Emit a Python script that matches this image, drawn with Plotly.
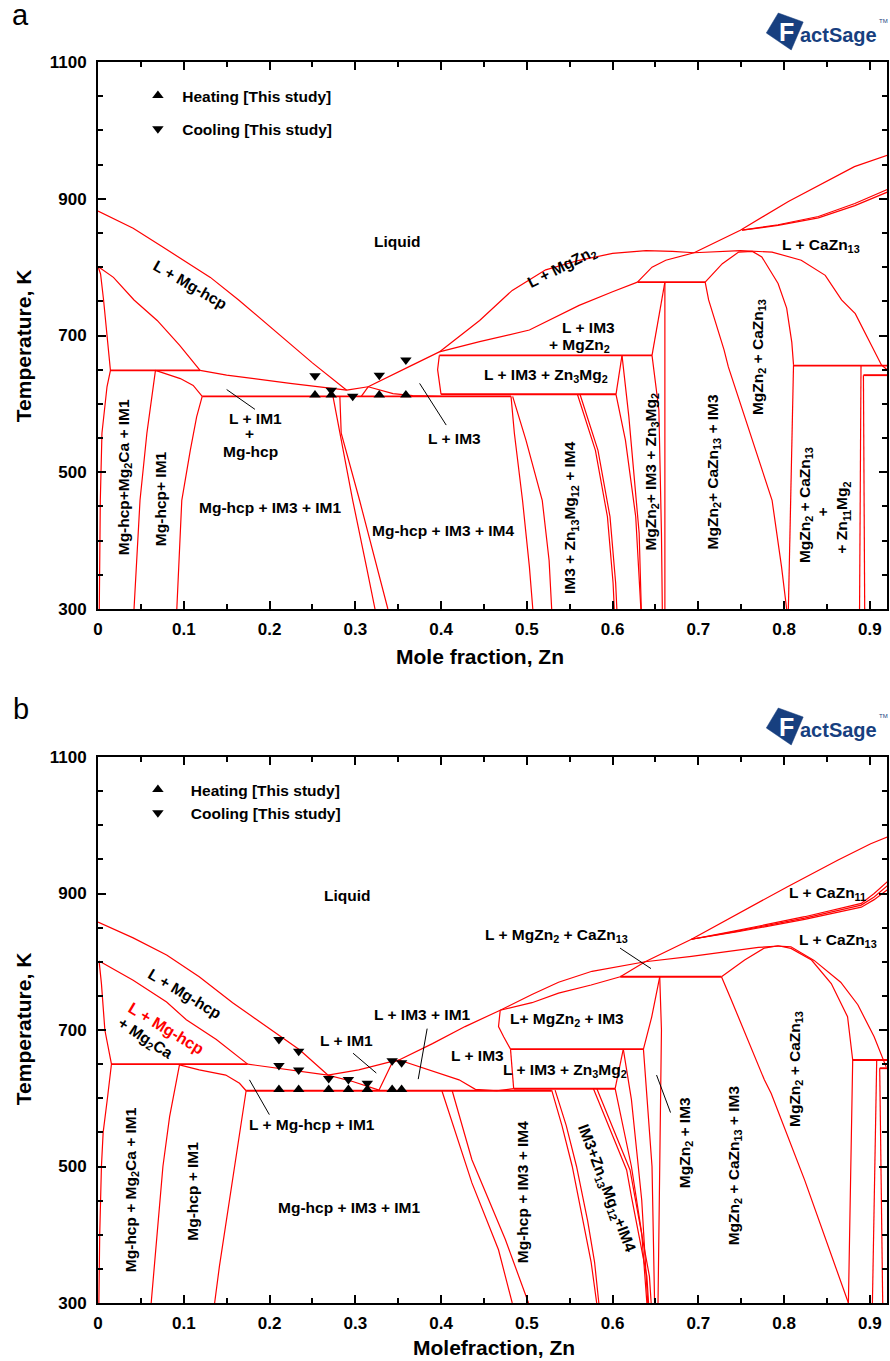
import plotly.graph_objects as go

FONT = "Liberation Sans, Arial, Helvetica, sans-serif"
RED = "#ff0000"
NAVY = "#173f7f"

W, H = 890, 1361
ML, MR, MT, MB = 98, 1, 62, 58

# ---------------------------------------------------------------------------
# Panel (a): phase boundaries as (mole fraction Zn, temperature K)
# ---------------------------------------------------------------------------
A_LIQ_HCP = ([0, 0.041, 0.076, 0.131, 0.164, 0.208, 0.25, 0.29],
             [882, 857, 829, 785, 752, 705, 660, 620])
A_HCP_L2 = ([0, 0.018, 0.042, 0.069, 0.095, 0.119],
            [801, 785, 752, 722, 686, 649])
A_HCP_SOLIDUS = ([0, 0.003, 0.0065, 0.0105, 0.0145, 0.0105, 0.0046, 0.0027, 0.002, 0.0015],
                 [801, 790, 752, 700, 649, 625, 557, 459, 380, 300])
A_L_HCP_IM1 = ([0.119, 0.15, 0.224, 0.29], [649, 642, 630, 620])
A_IM1_SOLVUS = ([0.067, 0.062, 0.057, 0.049, 0.042], [649, 600, 557, 459, 300])
A_HCP_IM1_TOP = ([0.067, 0.082, 0.096, 0.111, 0.1215], [649, 643, 637, 627, 611])
A_HCP_IM1_RIGHT = ([0.1215, 0.115, 0.1076, 0.0977, 0.0919], [611, 581, 532, 459, 300])
A_IM4_1 = ([0.274, 0.282, 0.297, 0.313, 0.323], [611, 557, 459, 362, 300])
A_IM4_2 = ([0.282, 0.2836, 0.305, 0.325, 0.338], [611, 557, 459, 362, 300])
A_L_IM1 = ([0.29, 0.315], [620, 625])
A_IM1_IM3 = ([0.307, 0.315], [611, 625])
A_L_IM3_LOW = ([0.315, 0.344, 0.367, 0.40], [625, 615, 612, 611])
A_LIQ_IM3 = ([0.315, 0.34, 0.367, 0.398], [625, 640, 657, 676])
A_LIQ_MGZN2 = ([0.398, 0.445, 0.483, 0.522, 0.561, 0.6, 0.639, 0.67, 0.695],
               [676, 722, 766, 796, 810, 820, 824, 823, 821])
A_MGZN2_LOW = ([0.398, 0.445, 0.503, 0.561, 0.6, 0.629], [676, 691, 708, 744, 764, 778])
A_BOX_LEFT = ([0.398, 0.396, 0.40], [671, 650, 614])
A_BOX_RIGHT = ([0.604, 0.611], [614, 671])
A_ZN3MG2_R = ([0.611, 0.619, 0.631, 0.6335], [671, 581, 411, 300])
A_ZN3MG2_L = ([0.604, 0.615, 0.627, 0.633], [614, 547, 435, 300])
A_IM4_R1 = ([0.559, 0.58, 0.594, 0.6006, 0.602], [614, 532, 435, 338, 300])
A_IM4_R2 = ([0.562, 0.583, 0.597, 0.6036, 0.605], [614, 532, 435, 338, 300])
A_MGZN2_L = ([0.646, 0.654, 0.657, 0.658], [671, 591, 411, 300])
A_MGZN2_R = ([0.661, 0.661], [778, 300])
A_TRI = ([0.646, 0.661], [671, 778])
A_L_MGZN2_CA = ([0.629, 0.646, 0.662, 0.695], [778, 800, 810, 821])
A_LIQ_CAZN11 = ([0.695, 0.749, 0.805, 0.882, 0.921], [821, 854, 896, 947, 964])
A_CAZN11_1 = ([0.751, 0.793, 0.84, 0.8825, 0.921], [854, 862, 874, 893, 914])
A_CAZN11_2 = ([0.751, 0.793, 0.84, 0.8825, 0.921], [854, 861, 872, 890, 910])
A_LIQ_CAZN13 = ([0.695, 0.749, 0.786, 0.82, 0.848, 0.867, 0.883, 0.895, 0.9135, 0.921],
                [821, 824, 822, 810, 788, 752, 732, 703, 657, 649])
A_CAZN13_DOME = ([0.708, 0.728, 0.747, 0.763, 0.774, 0.793, 0.803, 0.809, 0.811],
                 [778, 805, 822, 823, 815, 776, 740, 690, 657])
A_DIAG = ([0.708, 0.712, 0.730, 0.735, 0.786, 0.797, 0.803], [778, 752, 679, 654, 459, 362, 300])
A_DOME_DOWN = ([0.811, 0.809, 0.807, 0.805], [657, 550, 450, 300])
A_V1 = ([0.8897, 0.889, 0.888], [656, 500, 300])
A_V2 = ([0.8925, 0.893, 0.894], [642, 500, 300])
A_IM3_R1 = ([0.4816, 0.4855, 0.495, 0.503, 0.507], [611, 557, 459, 362, 300])
A_IM3_R2 = ([0.4835, 0.499, 0.518, 0.526, 0.529], [611, 547, 459, 371, 300])

# invariant (horizontal) reactions of panel (a)
A_H649 = ([0.0145, 0.119], [649, 649])
A_H611 = ([0.1215, 0.4816], [611, 611])
A_H671 = ([0.398, 0.646], [671, 671])
A_H614 = ([0.40, 0.604], [614, 614])
A_H778 = ([0.629, 0.708], [778, 778])
A_H656 = ([0.811, 0.921], [656, 656])
A_H642 = ([0.8925, 0.921], [642, 642])

# thermal analysis points, panel (a)
A_HEAT_X = [0.253, 0.272, 0.328, 0.359]
A_HEAT_T = [613, 613, 613, 613]
A_COOL_X = [0.253, 0.272, 0.297, 0.328, 0.359]
A_COOL_T = [641, 620, 611, 642, 664]

# ---------------------------------------------------------------------------
# Panel (b)
# ---------------------------------------------------------------------------
B_LIQ_HCP = ([0, 0.041, 0.08, 0.118, 0.157, 0.196, 0.235, 0.268],
             [858, 835, 810, 778, 740, 705, 671, 634])
B_HCP_L2 = ([0.0013, 0.041, 0.08, 0.103, 0.138, 0.1745], [801, 773, 741, 715, 686, 650])
B_HCP_SOLIDUS = ([0.0013, 0.004, 0.008, 0.0157, 0.011, 0.006, 0.004, 0.002, 0.001],
                 [801, 768, 700, 650, 600, 550, 500, 400, 300])
B_L_HCP_IM1 = ([0.1745, 0.235, 0.268, 0.297, 0.3277], [650, 639, 634, 624.5, 612])
B_L_IM1 = ([0.268, 0.304, 0.343, 0.351], [634, 641.5, 654, 656])
B_IM1_IM3 = ([0.3277, 0.3355, 0.343, 0.351], [612, 632, 652, 656])
B_LIQ_IM3 = ([0.351, 0.39, 0.428, 0.469], [656, 680, 705, 729])
B_L_IM3_LOW = ([0.351, 0.39, 0.421, 0.44, 0.465, 0.4847], [656, 640, 627, 613, 611, 614])
B_HCP_IM1_TOP = ([0.095, 0.118, 0.149, 0.165, 0.1727], [649, 641.5, 634, 622, 611])
B_HCP_IM1_RIGHT = ([0.1727, 0.165, 0.153, 0.1416, 0.136], [611, 549, 451, 354, 300])
B_IM1_SOLVUS = ([0.095, 0.0835, 0.0757, 0.066, 0.062], [649, 573, 500, 354, 300])
B_MGZN2_IM3_L = ([0.469, 0.467, 0.473, 0.481], [729, 705, 690, 672])
B_BOX_LEFT = ([0.481, 0.4847], [672, 614])
B_BOX_RIGHT = ([0.603, 0.6125], [614, 672])
B_MGZN2_IM3_R = ([0.636, 0.6456, 0.655], [672, 719, 778])
B_MGZN2_V = ([0.655, 0.657, 0.656, 0.653], [778, 700, 600, 300])
B_ZN3MG2_R = ([0.6125, 0.622, 0.634, 0.641], [672, 598, 451, 300])
B_ZN3MG2_L = ([0.603, 0.622, 0.634, 0.64], [614, 500, 402, 300])
B_MGZN2_L = ([0.636, 0.646, 0.649], [672, 500, 300])
B_IM4_R1 = ([0.5777, 0.599, 0.6164, 0.622, 0.63, 0.64, 0.642], [614, 549, 495, 456, 402, 339, 300])
B_IM4_R2 = ([0.5817, 0.603, 0.6204, 0.626, 0.634, 0.643, 0.645], [614, 549, 495, 456, 402, 339, 300])
B_IM3_IM4_1 = ([0.529, 0.541, 0.553, 0.566, 0.575, 0.5815], [612, 560, 500, 420, 360, 300])
B_IM3_IM4_2 = ([0.533, 0.546, 0.558, 0.571, 0.579, 0.584], [612, 560, 500, 420, 360, 300])
B_HCP_IM4_1 = ([0.401, 0.436, 0.467, 0.483], [611, 476, 378, 300])
B_HCP_IM4_2 = ([0.413, 0.436, 0.475, 0.502], [611, 510, 393, 300])
B_MGZN2_LOW = ([0.469, 0.506, 0.537, 0.575, 0.609], [729, 740, 754, 766, 778])
B_LIQ_MGZN2 = ([0.469, 0.506, 0.537, 0.576, 0.638, 0.692, 0.77, 0.793],
               [729, 752, 770, 786, 800, 808, 821, 823])
B_LIQ_CAZN13 = ([0.793, 0.808, 0.835, 0.866, 0.886, 0.905, 0.919], [823, 822, 802, 770, 737, 690, 646])
B_LIQ_CAZN11 = ([0.609, 0.638, 0.692, 0.804, 0.863, 0.901, 0.921], [778, 800, 833, 910, 949, 973, 983])
B_CAZN11_X = [0.692, 0.746, 0.824, 0.89, 0.905, 0.921]
B_CAZN11_1 = (B_CAZN11_X, [833, 846, 866, 885.5, 900, 918])
B_CAZN11_2 = (B_CAZN11_X, [833, 845, 864, 883, 895, 912])
B_CAZN11_3 = (B_CAZN11_X, [833, 844, 862, 880, 891, 906])
B_CAZN13_DOME = ([0.727, 0.754, 0.777, 0.793, 0.808, 0.832, 0.855, 0.874, 0.88, 0.878, 0.875],
                 [778, 802.5, 820, 823.4, 819.6, 802.5, 768, 719.5, 656, 500, 300])
B_DIAG = ([0.727, 0.7385, 0.777, 0.785, 0.824, 0.875], [778, 744, 627, 607, 480, 300])
B_V1 = ([0.908, 0.906, 0.903], [656, 500, 300])
B_V2 = ([0.9115, 0.913, 0.915], [644, 500, 300])

B_H650 = ([0.0157, 0.1745], [650, 650])
B_H611 = ([0.1727, 0.529], [611, 611])
B_H672 = ([0.481, 0.636], [672, 672])
B_H614 = ([0.4847, 0.603], [614, 614])
B_H778 = ([0.609, 0.727], [778, 778])
B_H656 = ([0.88, 0.921], [656, 656])
B_H644 = ([0.9115, 0.921], [644, 644])

B_HEAT_X = [0.211, 0.234, 0.269, 0.292, 0.314, 0.343, 0.354]
B_HEAT_T = [613, 613, 613, 613, 613, 613, 613]
B_COOL_X = [0.211, 0.211, 0.234, 0.234, 0.269, 0.292, 0.314, 0.343, 0.354]
B_COOL_T = [686, 648, 669, 641.5, 629, 627.5, 622, 655, 652]

# ---------------------------------------------------------------------------
PANEL_A_CURVES = [A_LIQ_HCP, A_HCP_L2, A_HCP_SOLIDUS, A_L_HCP_IM1, A_IM1_SOLVUS, A_HCP_IM1_TOP,
                  A_HCP_IM1_RIGHT, A_IM4_1, A_IM4_2, A_L_IM1, A_IM1_IM3, A_L_IM3_LOW, A_LIQ_IM3,
                  A_LIQ_MGZN2, A_MGZN2_LOW, A_BOX_LEFT, A_BOX_RIGHT, A_ZN3MG2_R, A_ZN3MG2_L,
                  A_IM4_R1, A_IM4_R2, A_MGZN2_L, A_MGZN2_R, A_TRI, A_L_MGZN2_CA, A_LIQ_CAZN11,
                  A_CAZN11_1, A_CAZN11_2, A_LIQ_CAZN13, A_CAZN13_DOME, A_DIAG, A_DOME_DOWN,
                  A_V1, A_V2, A_IM3_R1, A_IM3_R2]
PANEL_A_INVARIANTS = [A_H649, A_H611, A_H671, A_H614, A_H778, A_H656, A_H642]

PANEL_B_CURVES = [B_LIQ_HCP, B_HCP_L2, B_HCP_SOLIDUS, B_L_HCP_IM1, B_L_IM1, B_IM1_IM3, B_LIQ_IM3,
                  B_L_IM3_LOW, B_HCP_IM1_TOP, B_HCP_IM1_RIGHT, B_IM1_SOLVUS, B_MGZN2_IM3_L,
                  B_BOX_LEFT, B_BOX_RIGHT, B_MGZN2_IM3_R, B_MGZN2_V, B_ZN3MG2_R, B_ZN3MG2_L,
                  B_MGZN2_L, B_IM4_R1, B_IM4_R2, B_IM3_IM4_1, B_IM3_IM4_2, B_HCP_IM4_1,
                  B_HCP_IM4_2, B_MGZN2_LOW, B_LIQ_MGZN2, B_LIQ_CAZN13, B_LIQ_CAZN11,
                  B_CAZN11_1, B_CAZN11_2, B_CAZN11_3, B_CAZN13_DOME, B_DIAG, B_V1, B_V2]
PANEL_B_INVARIANTS = [B_H650, B_H611, B_H672, B_H614, B_H778, B_H656, B_H644]

# leader lines from labels to narrow fields: (x0, T0, x1, T1)
A_POINTERS = [(0.150, 621, 0.183, 592), (0.375, 630, 0.406, 569)]
B_POINTERS = [(0.1766, 627, 0.1998, 576), (0.2974, 666, 0.3245, 637), (0.3838, 702, 0.3734, 628),
              (0.6087, 820, 0.6448, 790), (0.6513, 634, 0.6676, 579)]

# region labels: (text, x, T, angle)
A_LABELS = [
    ("Liquid", 0.3495, 838, 0),
    ("L + Mg-hcp", 0.107, 774, 30),
    ("L + MgZn<sub>2</sub>", 0.541, 799, -27),
    ("L + CaZn<sub>13</sub>", 0.8434, 832, 0),
    ("L + IM3", 0.5724, 711, 0),
    ("+ MgZn<sub>2</sub>", 0.561, 685, 0),
    ("L + IM3 + Zn<sub>3</sub>Mg<sub>2</sub>", 0.522, 641, 0),
    ("L + IM1", 0.1833, 579, 0),
    ("+", 0.177, 557, 0),
    ("Mg-hcp", 0.178, 530, 0),
    ("L + IM3", 0.4155, 549.5, 0),
    ("Mg-hcp + IM3 + IM1", 0.2003, 448.5, 0),
    ("Mg-hcp + IM3 + IM4", 0.402, 415, 0),
    ("Mg-hcp+Mg<sub>2</sub>Ca + IM1", 0.0306, 493, -90),
    ("Mg-hcp+ IM1", 0.0737, 461, -90),
    ("IM3 + Zn<sub>13</sub>Mg<sub>12</sub> + IM4", 0.5512, 434, -90),
    ("MgZn<sub>2</sub>+ IM3 + Zn<sub>3</sub>Mg<sub>2</sub>", 0.6457, 500.6, -90),
    ("MgZn<sub>2</sub>+ CaZn<sub>13</sub> + IM3", 0.7178, 500.6, -90),
    ("MgZn<sub>2</sub> + CaZn<sub>13</sub>", 0.770, 669, -90),
    ("MgZn<sub>2</sub> + CaZn<sub>13</sub>", 0.8244, 452, -90),
    ("+", 0.8445, 441.6, -90),
    ("+ Zn<sub>11</sub>Mg<sub>2</sub>", 0.8687, 433.6, -90),
]
B_LABELS = [
    ("Liquid", 0.2908, 897.6, 0),
    ("L + Mg-hcp", 0.1009, 754, 31),
    ("+ Mg<sub>2</sub>Ca", 0.0544, 687, 33),
    ("L + IM1", 0.2901, 684, 0),
    ("L + IM3 + IM1", 0.378, 722, 0),
    ("L + MgZn<sub>2</sub> + CaZn<sub>13</sub>", 0.535, 839, 0),
    ("L + CaZn<sub>11</sub>", 0.851, 900, 0),
    ("L + CaZn<sub>13</sub>", 0.8625, 830.7, 0),
    ("L+ MgZn<sub>2</sub> + IM3", 0.5466, 714.7, 0),
    ("L + IM3", 0.442, 662, 0),
    ("L + IM3 + Zn<sub>3</sub>Mg<sub>2</sub>", 0.5448, 640.5, 0),
    ("L + Mg-hcp + IM1", 0.2501, 561, 0),
    ("Mg-hcp + IM3 + IM1", 0.2928, 440.6, 0),
    ("Mg-hcp + Mg<sub>2</sub>Ca + IM1", 0.039, 466, -90),
    ("Mg-hcp + IM1", 0.1099, 463.4, -90),
    ("Mg-hcp + IM3 + IM4", 0.4943, 462.2, -90),
    ("IM3+Zn<sub>13</sub>Mg<sub>12</sub>+IM4", 0.5931, 468.4, 69),
    ("MgZn<sub>2</sub> + IM3", 0.6843, 535.4, -90),
    ("MgZn<sub>2</sub> + CaZn<sub>13</sub> + IM3", 0.7424, 501.3, -90),
    ("MgZn<sub>2</sub> + CaZn<sub>13</sub>", 0.814, 643, -90),
]
B_RED_LABEL = ("L + Mg-hcp", 0.0797, 702.5, 31)

# ---------------------------------------------------------------------------
PLOT_W = W - ML - MR
PLOT_H = H - MT - MB


def paper(px, py):
    """Convert a page position in pixels to paper coordinates."""
    return (px - ML) / PLOT_W, 1 - (py - MT) / PLOT_H


fig = go.Figure()


def add_curves(curves, xa, ya, width):
    for xs, ts in curves:
        fig.add_trace(go.Scatter(x=xs, y=ts, mode="lines", xaxis=xa, yaxis=ya,
                                 line=dict(color=RED, width=width),
                                 showlegend=False, hoverinfo="skip"))


add_curves(PANEL_A_CURVES, "x", "y", 1.2)
add_curves(PANEL_A_INVARIANTS, "x", "y", 1.9)
add_curves(PANEL_B_CURVES, "x2", "y2", 1.2)
add_curves(PANEL_B_INVARIANTS, "x2", "y2", 1.9)

for pointers, xa, ya in ((A_POINTERS, "x", "y"), (B_POINTERS, "x2", "y2")):
    for x0, t0, x1, t1 in pointers:
        fig.add_trace(go.Scatter(x=[x0, x1], y=[t0, t1], mode="lines", xaxis=xa, yaxis=ya,
                                 line=dict(color="black", width=1),
                                 showlegend=False, hoverinfo="skip"))

# experimental points
MARK = dict(color="black", size=10)
fig.add_trace(go.Scatter(x=A_HEAT_X, y=A_HEAT_T, mode="markers", xaxis="x", yaxis="y",
                         marker=dict(symbol="triangle-up", **MARK),
                         name="\u00a0Heating [This study]", legend="legend", legendgroup="ah"))
fig.add_trace(go.Scatter(x=A_COOL_X, y=A_COOL_T, mode="markers", xaxis="x", yaxis="y",
                         marker=dict(symbol="triangle-down", **MARK),
                         name="\u00a0Cooling [This study]", legend="legend", legendgroup="ac"))
fig.add_trace(go.Scatter(x=B_HEAT_X, y=B_HEAT_T, mode="markers", xaxis="x2", yaxis="y2",
                         marker=dict(symbol="triangle-up", **MARK),
                         name="\u00a0\u00a0\u00a0Heating [This study]", legend="legend2", legendgroup="bh"))
fig.add_trace(go.Scatter(x=B_COOL_X, y=B_COOL_T, mode="markers", xaxis="x2", yaxis="y2",
                         marker=dict(symbol="triangle-down", **MARK),
                         name="\u00a0\u00a0\u00a0Cooling [This study]", legend="legend2", legendgroup="bc"))

# ---------------------------------------------------------------------------
annotations = []
LABEL_FONT = dict(family=FONT, size=15.5, color="black", weight="bold")

for labels, xr, yr in ((A_LABELS, "x", "y"), (B_LABELS, "x2", "y2")):
    for text, x, t, ang in labels:
        annotations.append(dict(text=text, x=x, y=t, xref=xr, yref=yr, showarrow=False,
                                textangle=ang, font=LABEL_FONT,
                                xanchor="center", yanchor="middle"))
text, x, t, ang = B_RED_LABEL
annotations.append(dict(text=text, x=x, y=t, xref="x2", yref="y2", showarrow=False, textangle=ang,
                        font=dict(family=FONT, size=16, color=RED, weight="bold")))

TITLE_FONT = dict(family=FONT, size=21, color="black", weight="bold")
for txt, px, py, ang in (("Mole fraction, Zn", 481, 657, 0), ("Temperature, K", 23, 346, -90),
                         ("Molefraction, Zn", 495, 1347, 0), ("Temperature, K", 23, 1029, -90)):
    xp, yp = paper(px, py)
    annotations.append(dict(text=txt, x=xp, y=yp, xref="paper", yref="paper", showarrow=False,
                            textangle=ang, font=TITLE_FONT, xanchor="center", yanchor="middle"))

for letter, px, py in (("a", 20, 15), ("b", 21, 709)):
    xp, yp = paper(px, py)
    annotations.append(dict(text=letter, x=xp, y=yp, xref="paper", yref="paper", showarrow=False,
                            font=dict(family=FONT, size=29, color="black"),
                            xanchor="center", yanchor="middle"))

# FactSage logo, one per panel
shapes = []
for dy in (0, 695):
    pts = [paper(768, 33 + dy), paper(780, 13 + dy), paper(805, 22 + dy), paper(793, 50 + dy)]
    path = "M " + " L ".join(f"{x:.5f},{y:.5f}" for x, y in pts) + " Z"
    shapes.append(dict(type="path", path=path, xref="paper", yref="paper",
                       fillcolor=NAVY, line=dict(color=NAVY, width=0.5)))
    xp, yp = paper(788, 32 + dy)
    annotations.append(dict(text="F", x=xp, y=yp, xref="paper", yref="paper", showarrow=False,
                            font=dict(family=FONT, size=25, color="white", weight="bold"),
                            xanchor="center", yanchor="middle"))
    xp, yp = paper(800, 35 + dy)
    annotations.append(dict(text="actSage", x=xp, y=yp, xref="paper", yref="paper", showarrow=False,
                            font=dict(family=FONT, size=20, color=NAVY, weight="bold"),
                            xanchor="left", yanchor="middle"))
    xp, yp = paper(885, 21 + dy)
    annotations.append(dict(text="TM", x=xp, y=yp, xref="paper", yref="paper", showarrow=False,
                            font=dict(family=FONT, size=6, color=NAVY),
                            xanchor="center", yanchor="middle"))

# ---------------------------------------------------------------------------
TICK_FONT = dict(family=FONT, size=17, color="black", weight="bold")


def x_axis(anchor):
    return dict(range=[0, 0.92], domain=[0, 1], anchor=anchor, tick0=0, dtick=0.1,
                showline=True, linecolor="black", linewidth=2, mirror="allticks",
                ticks="inside", ticklen=8, tickwidth=2, tickcolor="black",
                minor=dict(ticks="inside", dtick=0.05, ticklen=5, tickwidth=1.5, tickcolor="black"),
                showgrid=False, zeroline=False, tickfont=TICK_FONT, ticklabelstandoff=4)


def y_axis(anchor, domain):
    return dict(range=[300, 1100], domain=domain, anchor=anchor, tick0=300, dtick=200,
                showline=True, linecolor="black", linewidth=2, mirror="allticks",
                ticks="inside", ticklen=8, tickwidth=2, tickcolor="black",
                minor=dict(ticks="inside", dtick=50, ticklen=5, tickwidth=1.5, tickcolor="black"),
                showgrid=False, zeroline=False, tickfont=TICK_FONT, ticklabelstandoff=6)


top_a = 1.0
bot_a = paper(0, 609)[1]
top_b = paper(0, 757)[1]

lx_a, ly_a = paper(138, 79)
lx_b, ly_b = paper(138, 773)
LEGEND_FONT = dict(family=FONT, size=15.5, color="black", weight="bold")

fig.update_layout(
    width=W, height=H,
    margin=dict(l=ML, r=MR, t=MT, b=MB),
    paper_bgcolor="white", plot_bgcolor="white",
    font=dict(family=FONT, color="black"),
    xaxis=x_axis("y"), yaxis=y_axis("x", [bot_a, top_a]),
    xaxis2=x_axis("y2"), yaxis2=y_axis("x2", [0, top_b]),
    legend=dict(x=lx_a, y=ly_a, xanchor="left", yanchor="top", bgcolor="rgba(0,0,0,0)",
                font=LEGEND_FONT, tracegroupgap=10, itemwidth=30),
    legend2=dict(x=lx_b, y=ly_b, xanchor="left", yanchor="top", bgcolor="rgba(0,0,0,0)",
                 font=LEGEND_FONT, tracegroupgap=0, itemwidth=30),
    annotations=annotations,
    shapes=shapes,
    hovermode=False,
)

fig.write_html("out.html")
